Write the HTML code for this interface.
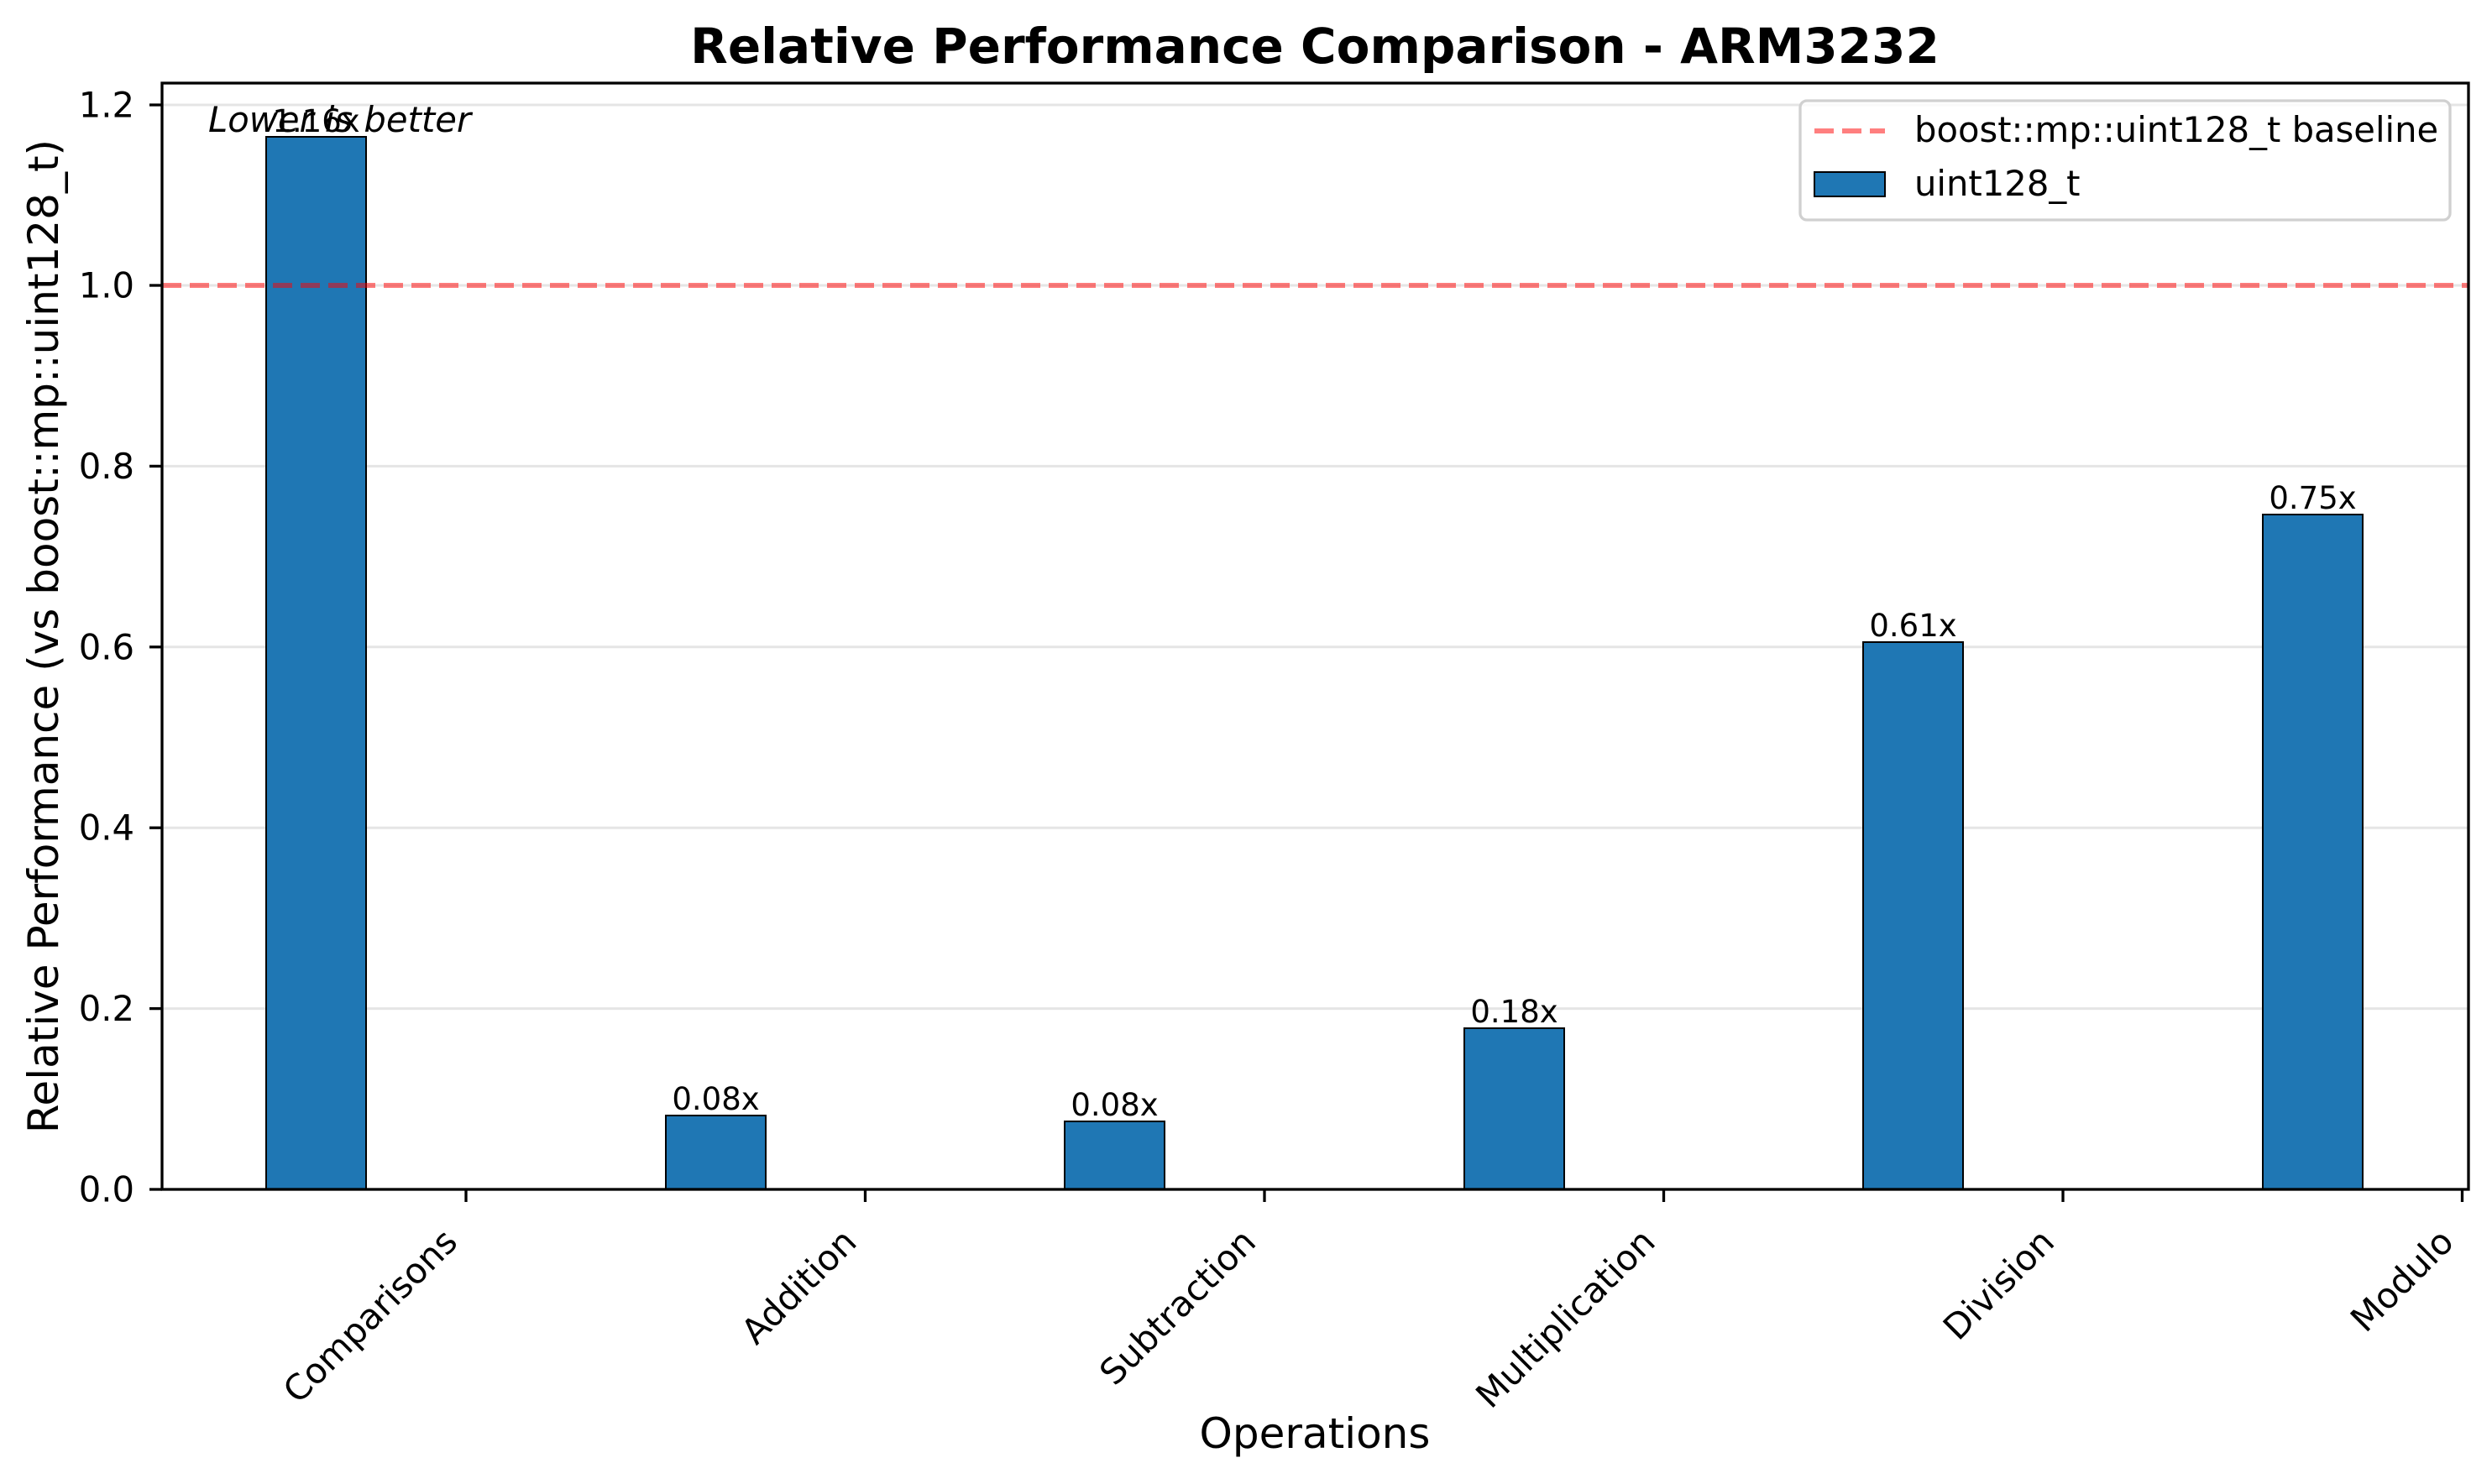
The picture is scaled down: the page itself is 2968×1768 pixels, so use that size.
<!DOCTYPE html>
<html><head><meta charset="utf-8"><style>html,body{margin:0;padding:0;background:#fff}svg{display:block}</style></head>
<body>
<svg width="2968" height="1768" viewBox="0 0 2968 1768" xmlns="http://www.w3.org/2000/svg" font-family="DejaVu Sans, Liberation Sans, sans-serif">
<rect width="2968" height="1768" fill="#fff"/>
<g stroke="#e5e5e5" stroke-width="3">
<line x1="193" x2="2940" y1="1417" y2="1417"/>
<line x1="193" x2="2940" y1="1201.6" y2="1201.6"/>
<line x1="193" x2="2940" y1="986.2" y2="986.2"/>
<line x1="193" x2="2940" y1="770.8" y2="770.8"/>
<line x1="193" x2="2940" y1="555.4" y2="555.4"/>
<line x1="193" x2="2940" y1="340" y2="340"/>
<line x1="193" x2="2940" y1="125" y2="125"/>
</g>
<g fill="#1f77b4" stroke="#000" stroke-width="2">
<rect x="317" y="163" width="119" height="1254"/>
<rect x="793" y="1329" width="119" height="88"/>
<rect x="1268" y="1336" width="119" height="81"/>
<rect x="1744" y="1225" width="119" height="192"/>
<rect x="2219" y="765" width="119" height="652"/>
<rect x="2695" y="613" width="119" height="804"/>
</g>
<line x1="193" x2="2940" y1="340" y2="340" stroke="#ff0000" stroke-opacity="0.5" stroke-width="6" stroke-dasharray="23,10"/>
<g font-size="37" text-anchor="middle" fill="#000">
<text x="376.5" y="157">1.16x</text>
<text x="852.5" y="1322">0.08x</text>
<text x="1327.5" y="1329">0.08x</text>
<text x="1803.5" y="1218">0.18x</text>
<text x="2278.5" y="758">0.61x</text>
<text x="2754.5" y="606">0.75x</text>
</g>
<text x="248" y="157" font-size="41.7" font-style="italic">Lower is better</text>
<rect x="193" y="99" width="2747" height="1318" fill="none" stroke="#000" stroke-width="3.3"/>
<g stroke="#000" stroke-width="3.3">
<line x1="178" x2="193" y1="1417" y2="1417"/>
<line x1="178" x2="193" y1="1201.6" y2="1201.6"/>
<line x1="178" x2="193" y1="986.2" y2="986.2"/>
<line x1="178" x2="193" y1="770.8" y2="770.8"/>
<line x1="178" x2="193" y1="555.4" y2="555.4"/>
<line x1="178" x2="193" y1="340" y2="340"/>
<line x1="178" x2="193" y1="125" y2="125"/>
<line x1="555" x2="555" y1="1417" y2="1432"/>
<line x1="1030.5" x2="1030.5" y1="1417" y2="1432"/>
<line x1="1506" x2="1506" y1="1417" y2="1432"/>
<line x1="1981.5" x2="1981.5" y1="1417" y2="1432"/>
<line x1="2457" x2="2457" y1="1417" y2="1432"/>
<line x1="2932.5" x2="2932.5" y1="1417" y2="1432"/>
</g>
<g font-size="41.7" text-anchor="end" dominant-baseline="central">
<text x="160" y="1417">0.0</text>
<text x="160" y="1201.6">0.2</text>
<text x="160" y="986.2">0.4</text>
<text x="160" y="770.8">0.6</text>
<text x="160" y="555.4">0.8</text>
<text x="160" y="340">1.0</text>
<text x="160" y="125">1.2</text>
</g>
<g font-size="41.7" text-anchor="end">
<text transform="translate(547,1482) rotate(-45)">Comparisons</text>
<text transform="translate(1022.5,1482) rotate(-45)">Addition</text>
<text transform="translate(1498,1482) rotate(-45)">Subtraction</text>
<text transform="translate(1973.5,1482) rotate(-45)">Multiplication</text>
<text transform="translate(2449,1482) rotate(-45)">Division</text>
<text transform="translate(2924.5,1482) rotate(-45)">Modulo</text>
</g>
<text x="1566" y="1725" font-size="50" text-anchor="middle">Operations</text>
<text transform="translate(52,758) rotate(-90)" font-size="50" text-anchor="middle" dominant-baseline="central">Relative Performance (vs boost::mp::uint128_t)</text>
<text x="1566" y="75" font-size="58" font-weight="bold" text-anchor="middle">Relative Performance Comparison - ARM3232</text>
<rect x="2144" y="120" width="774" height="142" rx="8" fill="#fff" fill-opacity="0.8" stroke="#d0d0d0" stroke-width="3.3"/>
<line x1="2161" x2="2245" y1="156" y2="156" stroke="#ff0000" stroke-opacity="0.5" stroke-width="6" stroke-dasharray="23,10"/>
<text x="2280" y="169" font-size="41.7">boost::mp::uint128_t baseline</text>
<rect x="2161" y="205" width="84" height="29" fill="#1f77b4" stroke="#000" stroke-width="2"/>
<text x="2280" y="233" font-size="41.7">uint128_t</text>
</svg>
</body></html>
